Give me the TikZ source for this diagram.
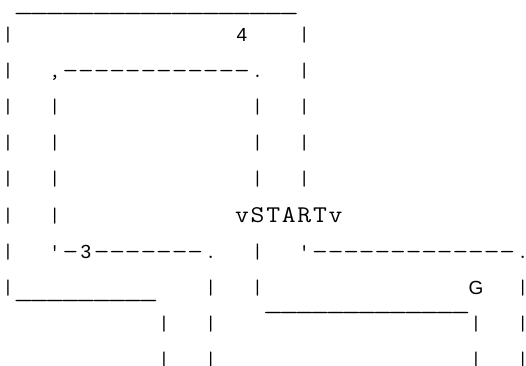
\documentclass[tikz,border=0pt]{standalone}
\usepackage{fontspec}
\usepackage{graphicx}
\newfontfamily\lblfont{Liberation Sans}
\newlength\cw
\setlength\cw{15.6pt}
\makeatletter
% set every character of #1 in its own fixed-width cell;
% hyphens are widened so that runs of them read as dashed rules
\def\mono#1{\mono@i#1\relax}
\def\mono@i#1{\ifx\relax#1\else\makebox[\cw][c]{\mono@g#1}\expandafter\mono@i\fi}
\def\mono@g#1{\ifx-#1\scalebox{1.45}[1]{-}\else#1\fi}
% same, with each letter a little wider
\def\monow#1{\monow@i#1\relax}
\def\monow@i#1{\ifx\relax#1\else\makebox[\cw][c]{\scalebox{1.12}[1]{#1}}\expandafter\monow@i\fi}
\makeatother
\newcommand\us{\scalebox{1.9}[1]{\_}}
\newcommand\sq{\textquotesingle}
\tikzset{
  txt/.style={inner sep=0pt, outer sep=0pt, anchor=base west,
              font=\fontsize{21}{21}\selectfont\ttfamily},
  edge char/.style={txt, anchor=base},
  word/.style={txt, font=\fontsize{24}{24}\selectfont\ttfamily},
  lbl/.style={inner sep=0pt, outer sep=0pt, anchor=base,
              font=\fontsize{19}{19}\selectfont\lblfont},
}
% column c, row r -> cell position
\newcommand\cx[1]{0.2+15.6*#1}
\newcommand\ry[1]{5.4+36.1*#1}
\newcommand\seg[4]{\node[txt] (#1) at ({\cx{#2}},{\ry{#3}}) {\mono{#4}};}
% a single character in the last column, in a narrow cell
\newcommand\edge[4]{\node[edge char] (#1) at ({8+15.6*#2},{\ry{#3}}) {\makebox[5pt][c]{#4}};}
\newcommand\lab[4]{\node[lbl] (#1) at ({8+15.6*#2},{\ry{#3}}) {#4};}
\newcommand\uline[4]{\node[txt] (#1) at ({\cx{#2}},{#3}) {\mono{#4}};}
\begin{document}
\begin{tikzpicture}[x=1pt,y=-1pt]
\useasboundingbox (0,0) rectangle (526,365);
% top edge
\uline{u0}{1}{10}{\us\us\us\us\us\us\us\us\us\us\us\us\us\us\us\us\us\us}
% row 1
\seg{r1a}{0}{1}{|}\lab{four}{15}{1}{4}\seg{r1b}{19}{1}{|}
% row 2
\seg{r2a}{0}{2}{|}\seg{r2b}{3}{2}{,------------.}\seg{r2c}{19}{2}{|}
% rows 3-5
\seg{r3a}{0}{3}{|}\seg{r3b}{3}{3}{|}\seg{r3c}{16}{3}{|}\seg{r3d}{19}{3}{|}
\seg{r4a}{0}{4}{|}\seg{r4b}{3}{4}{|}\seg{r4c}{16}{4}{|}\seg{r4d}{19}{4}{|}
\seg{r5a}{0}{5}{|}\seg{r5b}{3}{5}{|}\seg{r5c}{16}{5}{|}\seg{r5d}{19}{5}{|}
% row 6
\seg{r6a}{0}{6}{|}\seg{r6b}{3}{6}{|}
\node[word] (start) at ({\cx{15}},{\ry{6}}) {\monow{vSTARTv}};
% row 7
\seg{r7a}{0}{7}{|}\seg{r7b}{3}{7}{\sq-}\lab{three}{5}{7}{3}\seg{r7c}{6}{7}{-------.}
\seg{r7d}{16}{7}{|}\seg{r7e}{19}{7}{\sq-------------}\edge{r7f}{33}{7}{.}
% row 8
\seg{r8a}{0}{8}{|}\uline{u8}{1}{297}{\us\us\us\us\us\us\us\us\us}
\seg{r8b}{13}{8}{|}\seg{r8c}{16}{8}{|}\lab{goal}{30}{8}{G}\edge{r8d}{33}{8}{|}
% row 9
\seg{r9a}{10}{9}{|}\seg{r9b}{13}{9}{|}\uline{u9}{17}{309}{\us\us\us\us\us\us\us\us\us\us\us\us\us}
\seg{r9c}{30}{9}{|}\edge{r9d}{33}{9}{|}
% row 10
\seg{r10a}{10}{10}{|}\seg{r10b}{13}{10}{|}\seg{r10c}{30}{10}{|}\edge{r10d}{33}{10}{|}
\end{tikzpicture}
\end{document}
